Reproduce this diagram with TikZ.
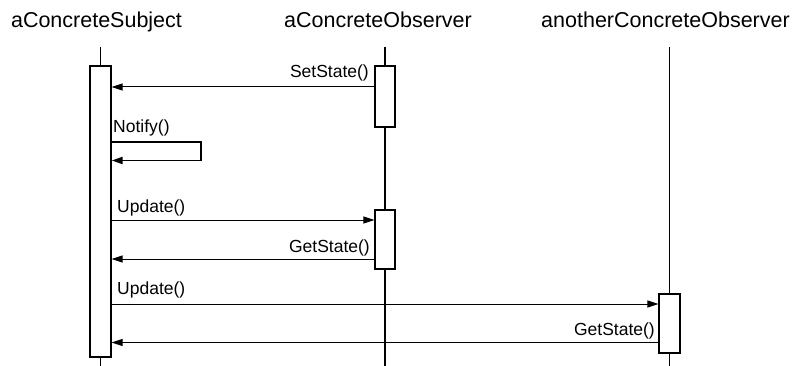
\documentclass[tikz,border=0pt]{standalone}
\usepackage{fontspec}
\setmainfont{Liberation Sans}
\usetikzlibrary{arrows.meta}
\begin{document}
\begin{tikzpicture}[x=1pt,y=-1pt,
  life/.style={line width=1.3pt},
  act/.style={draw, line width=1.3pt, fill=white, minimum width=20pt, inner sep=0pt},
  msg/.style={line width=1pt, -{Triangle[length=11pt,width=7pt]}},
  selfmsg/.style={line width=1.8pt, -{Triangle[length=11pt,width=7pt]}},
  title/.style={font=\fontsize{21.5}{24}\selectfont, anchor=base, inner sep=0pt},
  lbl/.style={font=\fontsize{17.5}{20}\selectfont, inner sep=0pt}
]
\useasboundingbox (0,0) rectangle (799,366);
% titles
\node[title] (tS) at (96.5,28) {aConcreteSubject};
\node[title] (tO) at (378,28) {aConcreteObserver};
\node[title] (tA) at (665.5,28) {anotherConcreteObserver};
% lifelines
\coordinate (sTop) at (100.5,47); \coordinate (sBot) at (100.5,366);
\coordinate (oTop) at (385,47);   \coordinate (oBot) at (385,366);
\coordinate (aTop) at (669.5,47); \coordinate (aBot) at (669.5,366);
\draw[life] (sTop) -- (sBot);
\draw[life] (oTop) -- (oBot);
\draw[life] (aTop) -- (aBot);
% activation boxes
\node[act, minimum width=21pt, minimum height=291pt] (sb) at (100.5,211.5) {};
\node[act, minimum height=61pt] (ob1) at (385,96.5) {};
\node[act, minimum height=59pt] (ob2) at (385,239.5) {};
\node[act, minimum width=21pt, minimum height=59pt] (ab) at (669.5,323.5) {};
% message levels
\coordinate (y1) at (0,87);
\coordinate (n1) at (201,142);
\coordinate (n2) at (201,160.5);
\coordinate (y3) at (0,220);
\coordinate (y4) at (0,259);
\coordinate (y5) at (0,304);
\coordinate (y6) at (0,342.5);
% messages
\draw[msg] (ob1.west |- y1) -- (sb.east |- y1);
\draw[selfmsg] (sb.east |- n1) -- (n1) -- (n2) -- (sb.east |- n2);
\draw[msg] (sb.east |- y3) -- (ob2.west |- y3);
\draw[msg] (ob2.west |- y4) -- (sb.east |- y4);
\draw[msg] (sb.east |- y5) -- (ab.west |- y5);
\draw[msg] (ab.west |- y6) -- (sb.east |- y6);
% labels
\node[lbl, anchor=base east] (l1) at (369,78) {SetState()};
\node[lbl, anchor=base west] (l2) at (113,133) {Notify()};
\node[lbl, anchor=base west] (l3) at (117,212) {Update()};
\node[lbl, anchor=base east] (l4) at (370,252) {GetState()};
\node[lbl, anchor=base west] (l5) at (117,294) {Update()};
\node[lbl, anchor=base east] (l6) at (655,335) {GetState()};
\end{tikzpicture}
\end{document}
